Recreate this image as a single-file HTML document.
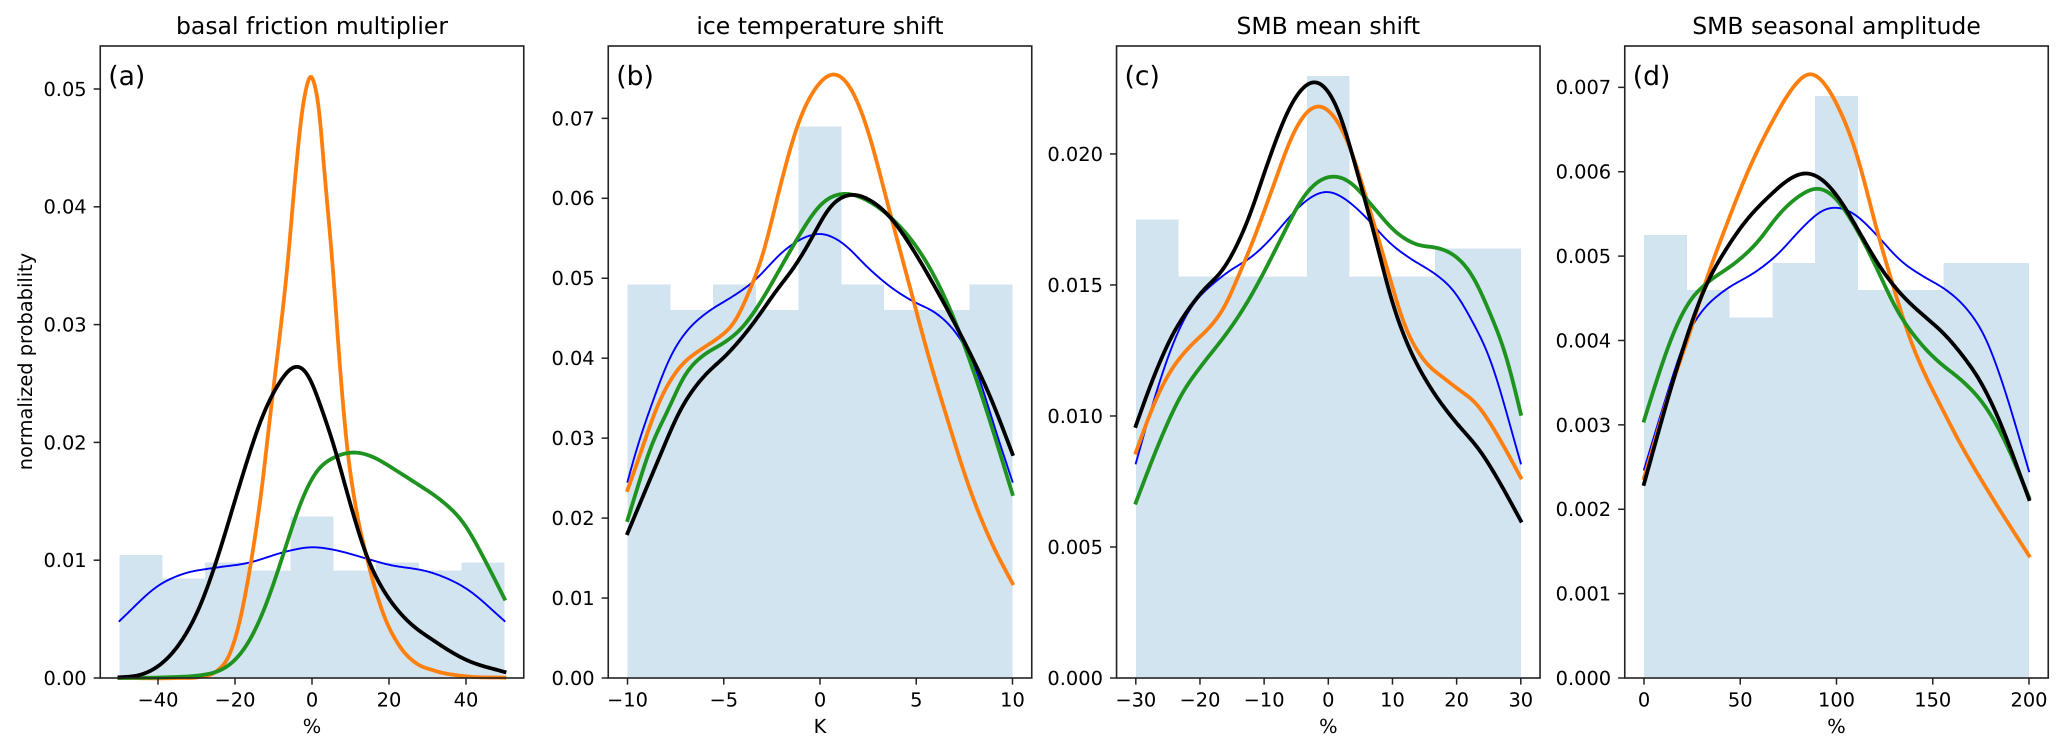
<!DOCTYPE html>
<html lang="en">
<head>
<meta charset="utf-8">
<title>Normalized probability distributions of model parameters</title>
<style>
html,body{margin:0;padding:0;background:#fff;width:2067px;height:751px;overflow:hidden}
svg{display:block}
text{font-family:"DejaVu Sans","Liberation Sans",sans-serif;fill:#000;text-rendering:geometricPrecision}
.tick{font-size:19.4px}
.title{font-size:23.5px;text-anchor:middle}
.axis-label{font-size:19.4px;text-anchor:middle}
.letter{font-size:26.6px}
</style>
</head>
<body>
<svg id="figure" width="2067" height="751" viewBox="0 0 2067 751" xmlns="http://www.w3.org/2000/svg">
  <rect x="0" y="0" width="2067" height="751" fill="#fff"/>
  <g id="panel-a">
    <text class="title" x="312" y="34">basal friction multiplier</text>
    <text class="axis-label" x="312" y="733">%</text>
    <text class="axis-label" transform="translate(32 361.5) rotate(-90)">normalized probability</text>
  </g>
  <g id="panel-b">
    <text class="title" x="820" y="34">ice temperature shift</text>
    <text class="axis-label" x="820" y="733">K</text>
  </g>
  <g id="panel-c">
    <text class="title" x="1328.3" y="34">SMB mean shift</text>
    <text class="axis-label" x="1328.3" y="733">%</text>
  </g>
  <g id="panel-d">
    <text class="title" x="1836.5" y="34">SMB seasonal amplitude</text>
    <text class="axis-label" x="1836.5" y="733">%</text>
  </g>
</svg>
<script>
// ---------- Panel (a) data ----------
const histA = [0.01044, 0.00846, 0.0098, 0.00914, 0.01373, 0.00914, 0.0098, 0.00914, 0.0098];
const xTicksA = [-40, -20, 0, 20, 40];
const xTickLabelsA = ['\u221240', '\u221220', '0', '20', '40'];
const yTicksA = [0, 0.01, 0.02, 0.03, 0.04, 0.05];
const yTickLabelsA = ['0.00', '0.01', '0.02', '0.03', '0.04', '0.05'];
const blueXA = [-50, -39.5, -33.4, -25.6, -16.6, -6.6, 0, 5.5, 14.2, 19.4, 31.5, 40.2, 50];
const blueYA = [0.00484, 0.00795, 0.00886, 0.00934, 0.00976, 0.01075, 0.01112, 0.0109, 0.01013, 0.00965, 0.00891, 0.00758, 0.00484];
const orangeXA = [-50, -35, -29, -24.8, -21.3, -18.7, -16.5, -14.8, -13.1, -11.1, -9.35, -6.4, -4.2, -2.4, -1.3, -0.35, 0.7, 1.8, 3.1, 5.4, 7.3, 9, 11.2, 14.2, 18.5, 22.9, 27.2, 31.5, 40, 50];
const orangeYA = [0, 0, 0.0001, 0.00057, 0.00207, 0.0049, 0.00857, 0.01197, 0.01593, 0.0216, 0.0264, 0.0349, 0.0431, 0.04860, 0.05040, 0.0513, 0.05040, 0.04850, 0.04338, 0.0349, 0.0262, 0.0199, 0.0148, 0.01027, 0.00546, 0.00263, 0.00122, 0.00065, 0.00014, 0.00003];
const greenXA = [-50, -37.7, -29, -24.8, -20.4, -16.1, -11.8, -7.4, -3.1, 1.2, 5.5, 10.7, 16, 21.1, 27.2, 34.1, 39.3, 44.5, 50];
const greenYA = [0, 0.00006, 0.00023, 0.0005, 0.00136, 0.0032, 0.0063, 0.01055, 0.0148, 0.01763, 0.0187, 0.01918, 0.01876, 0.01777, 0.0165, 0.01494, 0.01324, 0.01027, 0.00673];
const blackXA = [-50, -44.7, -39.5, -34.3, -29.1, -23.9, -18.7, -12.6, -8.5, -4.3, -0.5, 2.1, 5.5, 9.9, 14.2, 18.5, 24.6, 31.5, 40.2, 50];
const blackYA = [0.00006, 0.00023, 0.00108, 0.00291, 0.00603, 0.01084, 0.0165, 0.0225, 0.02510, 0.0266, 0.0256, 0.0232, 0.02000, 0.0148, 0.01027, 0.00744, 0.0049, 0.0032, 0.0015, 0.00051];

// ---------- Panel (b) data ----------
const histB = [0.04924, 0.046, 0.04924, 0.046, 0.06896, 0.04924, 0.046, 0.046, 0.04924];
const xTicksB = [-10, -5, 0, 5, 10];
const xTickLabelsB = ['\u221210', '\u22125', '0', '5', '10'];
const yTicksB = [0, 0.01, 0.02, 0.03, 0.04, 0.05, 0.06, 0.07];
const yTickLabelsB = ['0.00', '0.01', '0.02', '0.03', '0.04', '0.05', '0.06', '0.07'];
const blueXB = [-10, -9.7, -8.66, -7.79, -7.1, -5.89, -4.68, -3.55, -1.73, -0.52, 0, 1.21, 2.43, 3.64, 4.85, 6.06, 7.1, 8.14, 9, 10];
const blueYB = [0.02455, 0.02727, 0.03477, 0.0402, 0.0429, 0.0457, 0.0475, 0.04937, 0.05375, 0.0554, 0.05562, 0.05437, 0.05145, 0.04894, 0.04707, 0.04561, 0.04311, 0.03851, 0.03186, 0.02455];
const orangeXB = [-10, -9.44, -8.48, -7.36, -6.23, -5.19, -4.33, -3.72, -3.03, -2.08, -1.21, 0, 0.69, 1.73, 2.6, 3.46, 4.85, 5.54, 6.58, 7.79, 9, 10];
const orangeYB = [0.02351, 0.02727, 0.03393, 0.03874, 0.04103, 0.04269, 0.04478, 0.04812, 0.05228, 0.06145, 0.06896, 0.07458, 0.0757, 0.07333, 0.0677, 0.05979, 0.04728, 0.04103, 0.03268, 0.02351, 0.01642, 0.01184];
const greenXB = [-10, -8.66, -7.88, -7.1, -6.06, -5.02, -3.98, -3.12, -1.82, -0.87, 0, 0.35, 1.21, 2.43, 3.64, 5.02, 6.23, 7.27, 8.48, 10];
const greenYB = [0.01976, 0.02977, 0.03352, 0.03769, 0.0404, 0.04186, 0.04394, 0.04687, 0.05228, 0.0562, 0.0592, 0.0599, 0.06062, 0.05979, 0.0577, 0.05395, 0.04894, 0.04311, 0.03477, 0.02301];
const blackXB = [-10, -8.4, -7.27, -6.06, -4.85, -3.46, -2.25, -1.3, -0.52, 0.52, 1.56, 2.6, 3.64, 4.85, 6.06, 7.45, 8.92, 10];
const blackYB = [0.0181, 0.02727, 0.03352, 0.03769, 0.0404, 0.04437, 0.04853, 0.0515, 0.0546, 0.0590, 0.0605, 0.05979, 0.0577, 0.05353, 0.04853, 0.04228, 0.03477, 0.02802];

// ---------- Panel (c) data ----------
const histC = [0.01749, 0.01532, 0.01532, 0.01532, 0.02298, 0.01532, 0.01532, 0.0164, 0.0164];
const xTicksC = [-30, -20, -10, 0, 10, 20, 30];
const xTickLabelsC = ['\u221230', '\u221220', '\u221210', '0', '10', '20', '30'];
const yTicksC = [0, 0.005, 0.01, 0.015, 0.02];
const yTickLabelsC = ['0.000', '0.005', '0.010', '0.015', '0.020'];
const blueXC = [-30, -27.8, -25.7, -23.1, -21, -17.9, -14.8, -12.2, -9.1, -6, -3.4, 0, 2.9, 6, 9.6, 12.7, 16.9, 19.5, 22.6, 24.7, 30];
const blueYC = [0.00819, 0.0101, 0.01176, 0.01341, 0.0143, 0.01506, 0.01564, 0.01602, 0.01672, 0.01761, 0.01824, 0.01858, 0.01824, 0.01755, 0.01659, 0.01602, 0.01538, 0.01481, 0.01354, 0.01252, 0.00819];
const orangeXC = [-30, -29.3, -26.7, -24.2, -21.6, -17.9, -15.8, -14.3, -12.7, -8.6, -5.5, -3.4, -1.4, 0.8, 3.4, 6, 9.1, 11.7, 14.8, 18.45, 20, 23.1, 26.2, 30];
const orangeYC = [0.0086, 0.00908, 0.01074, 0.01188, 0.01265, 0.01354, 0.0143, 0.01519, 0.01608, 0.01875, 0.02079, 0.02162, 0.02187, 0.02149, 0.02028, 0.01824, 0.0157, 0.01354, 0.01214, 0.01137, 0.01106, 0.01048, 0.00934, 0.00765];
const greenXC = [-30, -26.2, -23.1, -19.5, -15.8, -12.7, -10.1, -7, -3.9, -1.3, 1, 3.4, 6.5, 10.7, 13.8, 17.4, 20, 22.6, 25.2, 27.8, 30];
const greenYC = [0.00669, 0.00908, 0.01074, 0.01201, 0.01316, 0.0143, 0.01545, 0.01695, 0.01837, 0.01901, 0.01916, 0.01894, 0.01812, 0.01697, 0.01653, 0.0164, 0.01608, 0.01532, 0.01392, 0.01226, 0.01008];
const blackXC = [-30, -28.3, -26.2, -24.2, -22.07, -19.5, -16.4, -12.7, -9.1, -6, -3.9, -2.2, -0.25, 1.8, 4.4, 7, 10.1, 12.7, 15.8, 20, 23.6, 26.8, 30];
const blackYC = [0.00962, 0.0108, 0.0121, 0.01316, 0.01398, 0.01481, 0.01557, 0.01735, 0.0199, 0.02181, 0.02257, 0.0228, 0.02251, 0.02155, 0.01939, 0.0171, 0.0142, 0.01252, 0.01112, 0.00972, 0.0087, 0.00743, 0.006];

// ---------- Panel (d) data ----------
const histD = [0.00525, 0.0046, 0.00427, 0.00492, 0.0069, 0.0046, 0.0046, 0.00492, 0.00492];
const xTicksD = [0, 50, 100, 150, 200];
const xTickLabelsD = ['0', '50', '100', '150', '200'];
const yTicksD = [0, 0.001, 0.002, 0.003, 0.004, 0.005, 0.006, 0.007];
const yTickLabelsD = ['0.000', '0.001', '0.002', '0.003', '0.004', '0.005', '0.006', '0.007'];
const blueXD = [0, 14.4, 21.3, 29, 41, 58.5, 69, 82.8, 93.1, 100, 108.7, 120.9, 133, 145, 157, 167.6, 178, 185.8, 200];
const blueYD = [0.00247, 0.00354, 0.00401, 0.00432, 0.00458, 0.00482, 0.00501, 0.00535, 0.00555, 0.00558, 0.00551, 0.00525, 0.00495, 0.00476, 0.0046, 0.00438, 0.00401, 0.00353, 0.00245];
const orangeXD = [0, 15.2, 23.9, 31.7, 41.2, 55, 67, 77.6, 86.2, 93.2, 101.8, 110.5, 120.9, 129.5, 138.2, 146.9, 153.8, 164.2, 179.7, 200];
const orangeYD = [0.00237, 0.00353, 0.00409, 0.00468, 0.00527, 0.00606, 0.00661, 0.00701, 0.00718, 0.00707, 0.00673, 0.00622, 0.00531, 0.00464, 0.00401, 0.00355, 0.00324, 0.00278, 0.00218, 0.00145];
const greenXD = [0, 6.6, 15.2, 23.9, 32.6, 48.1, 58.5, 70.6, 81, 90.6, 98.3, 108.7, 119, 131.3, 143.4, 153.8, 165, 178, 186.7, 200];
const greenYD = [0.00305, 0.00353, 0.00409, 0.00448, 0.00468, 0.00493, 0.00515, 0.00551, 0.00572, 0.00581, 0.00572, 0.00539, 0.00495, 0.00436, 0.00397, 0.00373, 0.00353, 0.0032, 0.00285, 0.00214];
const blackXD = [0, 15.2, 23.9, 32.6, 41.2, 53.3, 65.5, 75.8, 83.6, 93.2, 101.8, 112.2, 122.6, 133, 145, 155.5, 165.9, 174.5, 183.2, 200];
const blackYD = [0.0023, 0.00353, 0.00416, 0.00468, 0.00503, 0.00543, 0.00572, 0.00592, 0.00599, 0.0059, 0.00567, 0.00527, 0.00487, 0.00456, 0.0043, 0.00409, 0.00381, 0.00353, 0.00313, 0.00212];

// ---------- Layout (not data) ----------
const SVGNS = 'http://www.w3.org/2000/svg';
const boxTop = 46, boxBottom = 678, boxWidth = 423.5;
const lineColors = { blue: '#0000ff', orange: '#ff7f0e', green: '#1f931f', black: '#000000' };
const lineWidths = { blue: 1.9, orange: 3.8, green: 3.8, black: 3.8 };

const panels = [
  { id: 'a', left: 100.25, xMin: -55, xMax: 55, yMax: 0.05365, binMin: -50, binMax: 50, hist: histA,
    xTicks: xTicksA, xLabels: xTickLabelsA, yTicks: yTicksA, yLabels: yTickLabelsA, letter: '(a)',
    series: [['blue', blueXA, blueYA], ['orange', orangeXA, orangeYA], ['green', greenXA, greenYA], ['black', blackXA, blackYA]] },
  { id: 'b', left: 608.25, xMin: -11, xMax: 11, yMax: 0.07905, binMin: -10, binMax: 10, hist: histB,
    xTicks: xTicksB, xLabels: xTickLabelsB, yTicks: yTicksB, yLabels: yTickLabelsB, letter: '(b)',
    series: [['blue', blueXB, blueYB], ['orange', orangeXB, orangeYB], ['green', greenXB, greenYB], ['black', blackXB, blackYB]] },
  { id: 'c', left: 1116.55, xMin: -33, xMax: 33, yMax: 0.02412, binMin: -30, binMax: 30, hist: histC,
    xTicks: xTicksC, xLabels: xTickLabelsC, yTicks: yTicksC, yLabels: yTickLabelsC, letter: '(c)',
    series: [['blue', blueXC, blueYC], ['orange', orangeXC, orangeYC], ['green', greenXC, greenYC], ['black', blackXC, blackYC]] },
  { id: 'd', left: 1624.75, xMin: -10, xMax: 210, yMax: 0.00749, binMin: 0, binMax: 200, hist: histD,
    xTicks: xTicksD, xLabels: xTickLabelsD, yTicks: yTicksD, yLabels: yTickLabelsD, letter: '(d)',
    series: [['blue', blueXD, blueYD], ['orange', orangeXD, orangeYD], ['green', greenXD, greenYD], ['black', blackXD, blackYD]] }
];

function make(tag, attrs, parent) {
  const el = document.createElementNS(SVGNS, tag);
  for (const k in attrs) el.setAttribute(k, attrs[k]);
  parent.appendChild(el);
  return el;
}

function xAxisFn(p) {
  return function (v) { return p.left + (v - p.xMin) / (p.xMax - p.xMin) * boxWidth; };
}
function yAxisFn(p) {
  return function (v) { return boxBottom - v / p.yMax * (boxBottom - boxTop); };
}

// Smooth curve through the read-off points: Hermite interpolation sampled per pixel,
// then a small Gaussian filter (endpoints preserved) to take out reading noise.
function smoothPath(xs, ys, sigma) {
  const n = xs.length, m = [];
  for (let i = 0; i < n; i++) {
    if (i === 0) m.push((ys[1] - ys[0]) / (xs[1] - xs[0]));
    else if (i === n - 1) m.push((ys[n - 1] - ys[n - 2]) / (xs[n - 1] - xs[n - 2]));
    else {
      const h0 = xs[i] - xs[i - 1], h1 = xs[i + 1] - xs[i];
      const d0 = (ys[i] - ys[i - 1]) / h0, d1 = (ys[i + 1] - ys[i]) / h1;
      m.push((d0 * h1 + d1 * h0) / (h0 + h1));
    }
  }
  const sx = [], sy = [];
  const count = Math.round(xs[n - 1] - xs[0]);
  const step = (xs[n - 1] - xs[0]) / count;
  let seg = 0;
  for (let j = 0; j <= count; j++) {
    const x = xs[0] + j * step;
    while (seg < n - 2 && x > xs[seg + 1]) seg++;
    const h = xs[seg + 1] - xs[seg], t = (x - xs[seg]) / h;
    const t2 = t * t, t3 = t2 * t;
    sx.push(x);
    sy.push((2 * t3 - 3 * t2 + 1) * ys[seg] + (t3 - 2 * t2 + t) * h * m[seg] +
      (-2 * t3 + 3 * t2) * ys[seg + 1] + (t3 - t2) * h * m[seg + 1]);
  }
  const radius = Math.ceil(sigma * 3);
  const out = sy.map(function (_, j) {
    let sum = 0, weight = 0;
    for (let k = -radius; k <= radius; k++) {
      let v;
      const q = j + k;
      if (q < 0) v = 2 * sy[0] - sy[Math.min(-q, count)];
      else if (q > count) v = 2 * sy[count] - sy[Math.max(2 * count - q, 0)];
      else v = sy[q];
      const w = Math.exp(-k * k / (2 * sigma * sigma));
      sum += v * w;
      weight += w;
    }
    return sum / weight;
  });
  let d = 'M' + sx[0].toFixed(2) + ' ' + out[0].toFixed(2);
  for (let j = 1; j <= count; j++) d += 'L' + sx[j].toFixed(2) + ' ' + out[j].toFixed(2);
  return d;
}

panels.forEach(function (p) {
  const root = document.getElementById('panel-' + p.id);
  const sx = xAxisFn(p), sy = yAxisFn(p);

  // histogram bars
  const binWidth = (p.binMax - p.binMin) / p.hist.length;
  p.hist.forEach(function (h, i) {
    const x0 = sx(p.binMin + i * binWidth), x1 = sx(p.binMin + (i + 1) * binWidth);
    const bar = make('rect', { x: x0.toFixed(2), y: sy(h).toFixed(2), width: (x1 - x0).toFixed(2), height: (sy(0) - sy(h) - 1).toFixed(2), fill: '#d2e4f0', 'shape-rendering': 'crispEdges' }, root);
    
    
  });

  // density curves
  p.series.forEach(function (s) {
    const sigma = (p.id === 'a' && s[0] === 'orange') ? 2 : 6;
    const path = make('path', {
      d: smoothPath(s[1].map(sx), s[2].map(sy), sigma),
      fill: 'none', stroke: lineColors[s[0]], 'stroke-width': lineWidths[s[0]],
      'stroke-linecap': 'square', 'stroke-linejoin': 'round'
    }, root);
    
    
  });

  // axes frame
  const frame = make('rect', { x: p.left, y: boxTop, width: boxWidth, height: boxBottom - boxTop, fill: 'none', stroke: '#222', 'stroke-width': 1.6 }, root);
  
  

  // x ticks
  p.xTicks.forEach(function (v, i) {
    const tx = sx(v);
    const tick = make('line', { x1: tx, x2: tx, y1: boxBottom, y2: boxBottom + 6.6, stroke: '#222', 'stroke-width': 1.5 }, root);
    
    
    const label = make('text', { class: 'tick', x: tx, y: 706.5, 'text-anchor': 'middle' }, root);
    label.textContent = p.xLabels[i];
    
    
  });

  // y ticks
  p.yTicks.forEach(function (v, i) {
    const ty = sy(v);
    const tick = make('line', { x1: p.left - 6.6, x2: p.left, y1: ty, y2: ty, stroke: '#222', 'stroke-width': 1.5 }, root);
    
    
    const label = make('text', { class: 'tick', x: p.left - 13.6, y: ty + 6.9, 'text-anchor': 'end' }, root);
    label.textContent = p.yLabels[i];
    
    
  });

  // panel letter
  const letter = make('text', { class: 'letter', x: p.left + 8, y: 85 }, root);
  letter.textContent = p.letter;
  
  
});
</script>
</body>
</html>
